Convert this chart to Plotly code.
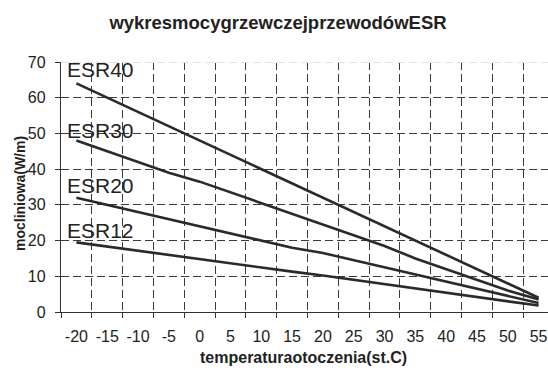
import plotly.graph_objects as go

temps = [-20, -15, -10, -5, 0, 5, 10, 15, 20, 25, 30, 35, 40, 45, 50, 55]
esr40 = [64, 60, 56, 52, 48, 44, 40, 36, 32, 28, 24, 20, 16, 12, 8, 4]
esr30 = [48, 45, 42, 39, 36.5, 33.5, 30.5, 27.5, 24.5, 21.5, 18.5, 15, 12, 9, 6, 3.5]
esr20 = [32, 30, 28, 26, 24, 22, 20, 18, 16.5, 14.5, 12.5, 10.5, 8.5, 6.5, 4.5, 2.5]
esr12 = [19.5, 18.3, 17.2, 16, 14.8, 13.7, 12.5, 11.3, 10.2, 9, 7.8, 6.7, 5.5, 4.3, 3, 1.8]
series = [("ESR40", esr40), ("ESR30", esr30), ("ESR20", esr20), ("ESR12", esr12)]
label_y = [67.8, 50.7, 35.3, 22.8]
y_ticks = [0, 10, 20, 30, 40, 50, 60, 70]

title_text = "wykresmocygrzewczejprzewodówESR"
x_title = "temperaturaotoczenia(st.C)"
y_title = "mocliniowa(W/m)"

FONT = "Liberation Sans, Arial, sans-serif"
cats = [str(t) for t in temps]

fig = go.Figure()
for name, vals in series:
    fig.add_trace(go.Scatter(x=cats, y=vals, mode="lines", name=name,
                             line=dict(color="#2a2a2a", width=2.6),
                             showlegend=False, hoverinfo="skip"))

for (name, _), ly in zip(series, label_y):
    fig.add_annotation(text=name, x=0.008, xref="paper", y=ly, yref="y",
                       xanchor="left", yanchor="middle", showarrow=False,
                       font=dict(family=FONT, size=21, color="#222"))

# axis titles placed precisely
fig.add_annotation(text="<b>" + y_title + "</b>", x=-41 / 487, xref="paper",
                   y=0.5 - 7 / 250, yref="paper", textangle=-90, showarrow=False,
                   xanchor="center", yanchor="middle",
                   font=dict(family=FONT, size=14, color="#222"))
fig.add_annotation(text="<b>" + x_title + "</b>", x=(303.5 - 61) / 487, xref="paper",
                   y=-(357.5 - 312) / 250, yref="paper", showarrow=False,
                   xanchor="center", yanchor="middle",
                   font=dict(family=FONT, size=16, color="#222"))

# lighter top border line at 70
fig.add_shape(type="line", xref="paper", yref="y", x0=0, x1=1, y0=70, y1=70,
              line=dict(color="white", width=2), layer="above")
fig.add_shape(type="line", xref="paper", yref="y", x0=0, x1=1, y0=70, y1=70,
              line=dict(color="#c4c4c4", width=1.2, dash="8px,4px"), layer="above")

fig.update_layout(
    width=548, height=368,
    margin=dict(l=61, r=0, t=62, b=56, autoexpand=False),
    paper_bgcolor="white", plot_bgcolor="white",
    font=dict(family=FONT, color="#222"),
    title=dict(text="<b>" + title_text + "</b>", x=278 / 548, xref="container",
               xanchor="center", y=1 - 23 / 368, yanchor="middle",
               font=dict(family=FONT, size=18.5, color="#222")),
)
fig.update_xaxes(
    type="category", categoryorder="array", categoryarray=cats,
    range=[-0.5, 15.305], tickson="boundaries", tickangle=0, automargin=False,
    ticklabelstandoff=10,
    showgrid=True, gridcolor="#3a3a3a", griddash="8px,4px", gridwidth=1,
    showline=True, linecolor="#333", linewidth=1.3,
    ticks="outside", ticklen=5, tickcolor="#333",
    tickfont=dict(family=FONT, size=16, color="#222"),
    zeroline=False,
)
fig.update_yaxes(
    range=[0, 70], tickvals=y_ticks, automargin=False, ticklabelstandoff=6,
    showgrid=True, gridcolor="#3a3a3a", griddash="8px,4px", gridwidth=1,
    showline=True, linecolor="#333", linewidth=1.3,
    ticks="outside", ticklen=5, tickcolor="#333",
    tickfont=dict(family=FONT, size=16, color="#222"),
    zeroline=False,
)

fig.write_html("out.html", config={"displayModeBar": False},
               post_script="document.body.style.margin='0';")
